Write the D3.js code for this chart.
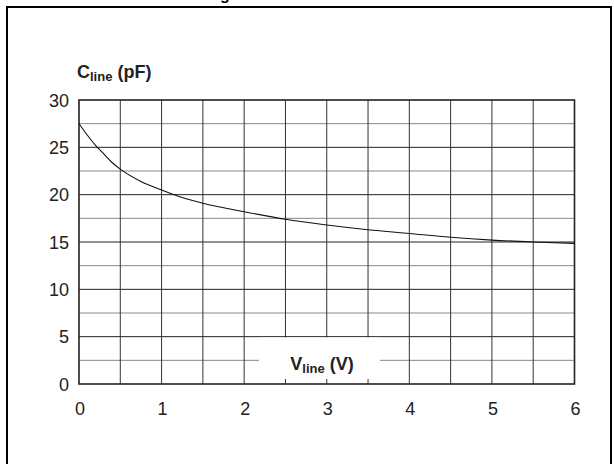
<!DOCTYPE html>
<html>
<head>
<meta charset="utf-8">
<script src="https://cdn.jsdelivr.net/npm/d3@7.9.0/dist/d3.min.js"></script>
<style>
  body { margin: 0; background: #fff; }
  text { font-family: "Liberation Sans", Arial, Helvetica, sans-serif; }
</style>
</head>
<body>
<svg id="chart" width="614" height="464"></svg>
<script>
// values
const voltage = [0, 0.1, 0.2, 0.3, 0.4, 0.5, 0.75, 1, 1.25, 1.5, 2, 2.5, 3, 3.5, 4, 4.5, 5, 5.5, 6];
const capacitance = [27.5, 26.3, 25.2, 24.3, 23.4, 22.7, 21.4, 20.5, 19.7, 19.1, 18.2, 17.4, 16.8, 16.3, 15.9, 15.5, 15.2, 15.0, 14.85];
const xTicks = [0, 1, 2, 3, 4, 5, 6];
const yTicks = [0, 5, 10, 15, 20, 25, 30];

const svg = d3.select('#chart');

// outer frame (runs off bottom of the picture)
svg.append('rect')
  .attr('x', 7).attr('y', 7)
  .attr('width', 604).attr('height', 470)
  .attr('fill', 'none').attr('stroke', '#000').attr('stroke-width', 2);

// title cut off at the top
svg.append('text')
  .attr('x', 195).attr('y', -0.5)
  .attr('font-size', 16).attr('font-weight', 'bold')
  .text('Diagram');

const x = d3.scaleLinear().domain([0, 6]).range([79, 574.5]);
const y = d3.scaleLinear().domain([0, 30]).range([384, 100]);

const grid = svg.append('g');

// horizontal grid, every 2.5 pF
d3.range(2.5, 30, 2.5).forEach((v) => {
  grid.append('line')
    .attr('x1', x(0)).attr('x2', x(6))
    .attr('y1', y(v)).attr('y2', y(v))
    .attr('stroke', v % 5 === 0 ? '#222' : '#888')
    .attr('stroke-width', 1);
});
// vertical grid, every 0.5 V
d3.range(0.5, 6, 0.5).forEach((v) => {
  grid.append('line')
    .attr('x1', x(v)).attr('x2', x(v))
    .attr('y1', y(0)).attr('y2', y(30))
    .attr('stroke', '#333')
    .attr('stroke-width', 1);
});

// white box behind the x label
svg.append('rect')
  .attr('x', 259).attr('y', 337.5)
  .attr('width', 121).attr('height', 41.5)
  .attr('fill', '#fff');

// plot frame
svg.append('rect')
  .attr('x', x(0)).attr('y', y(30))
  .attr('width', x(6) - x(0)).attr('height', y(0) - y(30))
  .attr('fill', 'none').attr('stroke', '#222').attr('stroke-width', 1.6);

// curve
const line = d3.line()
  .x((d, i) => x(voltage[i]))
  .y((d) => y(d))
  .curve(d3.curveMonotoneX);

svg.append('path')
  .attr('d', line(capacitance))
  .attr('fill', 'none')
  .attr('stroke', '#111')
  .attr('stroke-width', 1.1);

// tick labels
svg.append('g').selectAll('text')
  .data(yTicks).join('text')
  .attr('x', 69).attr('y', (d) => y(d) + 6.5)
  .attr('text-anchor', 'end')
  .attr('font-size', 18)
  .attr('fill', '#222')
  .text((d) => d);

svg.append('g').selectAll('text')
  .data(xTicks).join('text')
  .attr('x', (d) => x(d) + 1)
  .attr('y', 415)
  .attr('text-anchor', 'middle')
  .attr('font-size', 18)
  .attr('fill', '#222')
  .text((d) => d);

// axis titles
const yTitle = svg.append('text')
  .attr('x', 77).attr('y', 78)
  .attr('font-size', 18).attr('font-weight', 'bold')
  .attr('fill', '#222');
yTitle.append('tspan').text('C');
yTitle.append('tspan').attr('font-size', 13).attr('dy', 3).text('line');
yTitle.append('tspan').attr('dy', -3).text(' (pF)');

const xTitle = svg.append('text')
  .attr('x', 322).attr('y', 370)
  .attr('text-anchor', 'middle')
  .attr('font-size', 18).attr('font-weight', 'bold')
  .attr('fill', '#222');
xTitle.append('tspan').text('V');
xTitle.append('tspan').attr('font-size', 13).attr('dy', 3).text('line');
xTitle.append('tspan').attr('dy', -3).text(' (V)');
</script>
</body>
</html>
